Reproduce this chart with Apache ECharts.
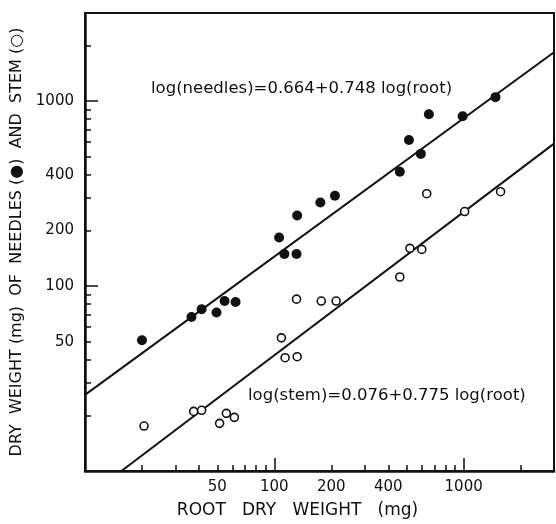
<!DOCTYPE html>
<html><head><meta charset="utf-8">
<script src="https://cdn.jsdelivr.net/npm/echarts@6/dist/echarts.min.js"></script>
<style>html,body{margin:0;padding:0;background:#fff}#c{width:556px;height:524px}</style>
</head><body><div id="c"></div>
<script>
// Root dry weight (mg) and needle dry weight (mg) - filled circles
const rootNeedles = [20, 36.5, 41.3, 49.5, 54.6, 62.4, 106, 113, 131, 132, 175, 209, 460, 514, 594, 655, 988, 1472];
const needles     = [51, 68, 75, 72, 83, 82, 183, 149, 149, 241, 283, 308, 415, 617, 519, 851, 830, 1052];
// Root dry weight (mg) and stem dry weight (mg) - open circles
const rootStem = [20.5, 37.5, 41.3, 51.4, 55.8, 61.5, 109, 114, 132, 131, 177, 212, 460, 520, 601, 638, 1012, 1567];
const stem     = [17.5, 21, 21.3, 18.1, 20.5, 19.5, 52.5, 41, 41.5, 85, 83, 83, 112, 160, 158, 316, 253, 324];
// Regression fits: log(y) = a + b log(root)
const needlesFit = { a: 0.664, b: 0.748 };
const stemFit = { a: 0.076, b: 0.775 };
const needlesEq = 'log(needles)=0.664+0.748 log(root)';
const stemEq = 'log(stem)=0.076+0.775 log(root)';
// Axis extent and ticks
const axisMin = 10, axisMax = 3000;
const labelTicks = [50, 100, 200, 400, 1000];
const minorTicks = [20, 30, 40, 50, 60, 70, 80, 90, 200, 300, 400, 500, 600, 700, 800, 900, 2000];
const majorTicks = [100, 1000];

function fitLine(fit) {
  const f = x => Math.pow(10, fit.a + fit.b * Math.log10(x));
  const x0 = Math.max(axisMin, Math.pow(10, (Math.log10(axisMin) - fit.a) / fit.b));
  const x1 = Math.min(axisMax, Math.pow(10, (Math.log10(axisMax) - fit.a) / fit.b));
  return [[x0, f(x0)], [x1, f(x1)]];
}
const zip = (xs, ys) => xs.map((x, i) => [x, ys[i]]);

const INK = '#111';
const FONT = 'DejaVu Sans';
function baseAxis(extra) {
  return Object.assign({
    type: 'log', logBase: 10, min: axisMin, max: axisMax, gridIndex: 0,
    splitLine: { show: false }, minorTick: { show: false }
  }, extra);
}

const chart = echarts.init(document.getElementById('c'), null, { renderer: 'canvas' });
chart.setOption({
  animation: false,
  backgroundColor: '#fff',
  grid: { left: 85, top: 13, width: 469, height: 462, show: true, borderColor: INK, borderWidth: 2, containLabel: false },
  xAxis: [
    baseAxis({
      position: 'bottom',
      axisLine: { show: true, lineStyle: { color: INK, width: 2.5 } },
      axisTick: { show: true, inside: true, length: 6, customValues: minorTicks, lineStyle: { color: INK, width: 1.5 } },
      axisLabel: { customValues: labelTicks, color: INK, fontSize: 15, fontFamily: FONT, margin: 9, formatter: v => String(v) },
      name: 'ROOT   DRY   WEIGHT   (mg)', nameLocation: 'middle', nameGap: 31,
      nameTextStyle: { color: INK, fontSize: 17, fontFamily: FONT, padding: [0, 44, 0, 0] }
    }),
    baseAxis({
      position: 'bottom',
      axisLine: { show: false },
      axisTick: { show: true, inside: true, length: 13, customValues: majorTicks, lineStyle: { color: INK, width: 1.5 } },
      axisLabel: { show: false }
    })
  ],
  yAxis: [
    baseAxis({
      position: 'left',
      axisLine: { show: true, lineStyle: { color: INK, width: 2.5 } },
      axisTick: { show: true, inside: true, length: 6, customValues: minorTicks, lineStyle: { color: INK, width: 1.5 } },
      axisLabel: { customValues: labelTicks, color: INK, fontSize: 15, fontFamily: FONT, margin: 11, formatter: v => String(v) },
      name: 'DRY  WEIGHT (mg)  OF  NEEDLES (●)  AND  STEM (○)', nameLocation: 'middle', nameGap: 51, nameRotate: 90,
      nameTextStyle: { color: INK, fontSize: 16, fontFamily: FONT }
    }),
    baseAxis({
      position: 'left',
      axisLine: { show: false },
      axisTick: { show: true, inside: true, length: 13, customValues: majorTicks, lineStyle: { color: INK, width: 1.5 } },
      axisLabel: { show: false }
    })
  ],
  series: [
    { type: 'line', data: fitLine(needlesFit), showSymbol: false, symbol: 'none', lineStyle: { color: INK, width: 2 }, z: 1, silent: true },
    { type: 'line', data: fitLine(stemFit), showSymbol: false, symbol: 'none', lineStyle: { color: INK, width: 2 }, z: 1, silent: true },
    { type: 'scatter', name: 'needles', data: zip(rootNeedles, needles), symbol: 'circle', symbolSize: 10, itemStyle: { color: INK, opacity: 1 }, z: 3 },
    { type: 'scatter', name: 'stem', data: zip(rootStem, stem), symbol: 'circle', symbolSize: 8, itemStyle: { color: '#fff', borderColor: INK, borderWidth: 1.6, opacity: 1 }, z: 3 }
  ],
  graphic: [
    { type: 'text', left: 151, top: 80, style: { text: needlesEq, fill: INK, font: '16.5px "DejaVu Sans"' } },
    { type: 'text', left: 248, top: 387, style: { text: stemEq, fill: INK, font: '16.5px "DejaVu Sans"' } }
  ]
});
</script></body></html>
